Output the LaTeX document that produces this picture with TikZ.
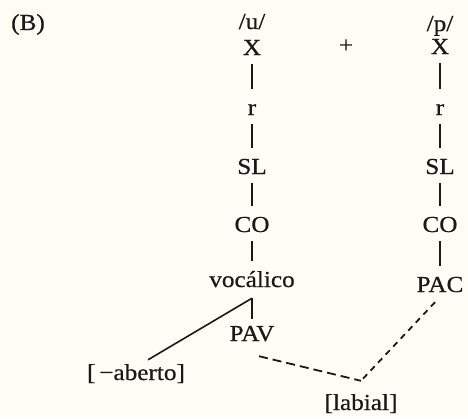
\documentclass[tikz,border=0pt]{standalone}
\usepackage{fontspec}
\setmainfont[FakeStretch=1.1,FakeBold=0.6]{Liberation Serif}
\usetikzlibrary{positioning,calc}
\definecolor{paper}{RGB}{253,252,245}
\definecolor{ink}{RGB}{25,25,25}

\begin{document}
\begin{tikzpicture}[x=1bp,y=1bp,font=\fontsize{23}{26}\selectfont,on grid,
  seg/.style={inner sep=2bp,text height=15bp,text depth=4bp,text=ink},
  bar/.style={draw=ink,line width=1.4bp,shorten <=3bp,shorten >=9bp},
  assoc/.style={draw=ink,line width=1.6bp},
  delink/.style={draw=ink,line width=1.8bp,dash pattern=on 9bp off 5bp}]
\fill[paper] (0,0) rectangle (468,418);
\useasboundingbox (0,0) rectangle (468,418);
\node[seg,anchor=base] (tag) at (28,388) {(B)};
% /u/
\node[seg,anchor=base] (ux) at (252,389) {/u/};
\node[seg,anchor=base] (xu) at (252,363) {X};
\node[seg,below=60bp of xu] (ru) {r};
\node[seg,below=59bp of ru] (slu) {SL};
\node[seg,below=58bp of slu] (cou) {CO};
\node[seg,below=55bp of cou] (voc) {vocálico};
\node[seg,below=54bp of voc] (pav) {PAV};
% /p/
\node[seg,anchor=base] (pp) at (440,387) {/p/};
\node[seg,anchor=base] (xp) at (440,364) {X};
\node[seg,below=61bp of xp] (rp) {r};
\node[seg,below=59bp of rp] (slp) {SL};
\node[seg,below=58bp of slp] (cop) {CO};
\node[seg,below=60bp of cop] (pac) {PAC};
\node[seg] (plus) at (346,371) {+};
% features
\node[seg,anchor=base] (aberto) at (136,38) {[\,−aberto]};
\node[seg,anchor=base] (labial) at (361,8) {[labial]};
\coordinate[below=5bp of voc.south] (vj);
\coordinate[above=12bp of labial.north] (lj);
\draw[bar] (xu) -- (ru);
\draw[bar] (ru) -- (slu);
\draw[bar] (slu) -- (cou);
\draw[bar] (cou) -- (voc);
\draw[bar] (xp) -- (rp);
\draw[bar] (rp) -- (slp);
\draw[bar] (slp) -- (cop);
\draw[bar] (cop) -- (pac);
\draw[assoc,shorten >=5bp] (vj) -- (pav.north);
\draw[assoc] ($(aberto.north)+(12bp,3bp)$) -- (vj);
\draw[delink] ($(pav.south)+(7bp,-9bp)$) -- (lj);
\draw[delink,dash pattern=on 6bp off 5bp] ($(pac.south)+(-5bp,-4bp)$) -- (lj);
\end{tikzpicture}
\end{document}
